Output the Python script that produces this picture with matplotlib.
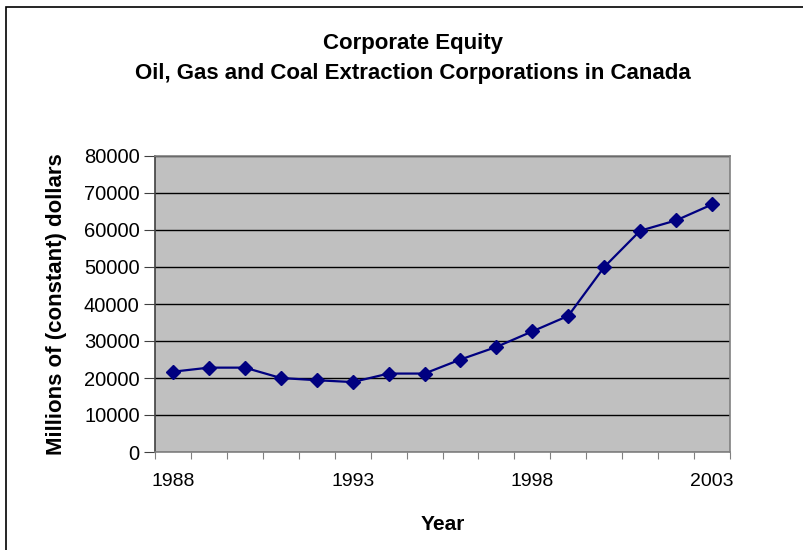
import matplotlib.pyplot as plt
from matplotlib.patches import Rectangle

plt.rcParams['font.family'] = ['Liberation Sans', 'DejaVu Sans']

# --- data ---
years = list(range(1988, 2004))
equity = [21700, 22800, 22800, 20000, 19400, 18900, 21200, 21200,
          25000, 28400, 32600, 36800, 50000, 59800, 62600, 66900]
label_years = [1988, 1993, 1998, 2003]
y_ticks = list(range(0, 80001, 10000))

fig = plt.figure(figsize=(8.04, 5.5), dpi=100)
W, H = 804, 550

# outer chart frame
fig.patches.append(Rectangle((6 / W, -0.05), 1.0, 1 - 7 / H + 0.05,
                             transform=fig.transFigure, fill=False,
                             edgecolor='black', lw=1.2))

ax = fig.add_axes([155 / W, (H - 452) / H, 575 / W, 296 / H])
ax.set_facecolor('#C0C0C0')

ax.plot(years, equity, color='#000080', lw=1.6, marker='D', ms=7.5,
        markerfacecolor='#000080', markeredgecolor='#000080', zorder=3)

ax.set_xlim(years[0] - 0.5, years[-1] + 0.5)
ax.set_ylim(0, 80000)

# y axis
ax.set_yticks(y_ticks)
ax.set_yticklabels([str(v) for v in y_ticks], fontsize=14.5)
ax.yaxis.grid(True, color='black', lw=1.0)
ax.set_axisbelow(True)

# x axis: ticks at category edges, labels at a few categories
ax.set_xticks([y - 0.5 for y in years] + [years[-1] + 0.5])
ax.set_xticklabels([])
ax.set_xticks(label_years, minor=True)
ax.set_xticklabels([str(y) for y in label_years], minor=True, fontsize=14)
ax.tick_params(axis='x', which='minor', length=0, pad=15)
ax.tick_params(axis='x', which='major', length=5, color='#808080', direction='out')
ax.tick_params(axis='y', length=8, color='#404040', direction='out', pad=3)

for s in ['top', 'right']:
    ax.spines[s].set_color('#808080')
ax.spines['bottom'].set_color('#808080')
ax.spines['left'].set_color('#404040')
for s in ax.spines.values():
    s.set_linewidth(1.2)

ax.set_xlabel('Year', fontsize=15, fontweight='bold', labelpad=18)
ax.set_ylabel('Millions of (constant) dollars', fontsize=16, fontweight='bold', labelpad=12)

fig.text(413 / W, 1 - 44 / H, 'Corporate Equity', ha='center', va='center',
         fontsize=16, fontweight='bold')
fig.text(413 / W, 1 - 73 / H, 'Oil, Gas and Coal Extraction Corporations in Canada',
         ha='center', va='center', fontsize=16, fontweight='bold')

fig.savefig('out.png', dpi=100)
